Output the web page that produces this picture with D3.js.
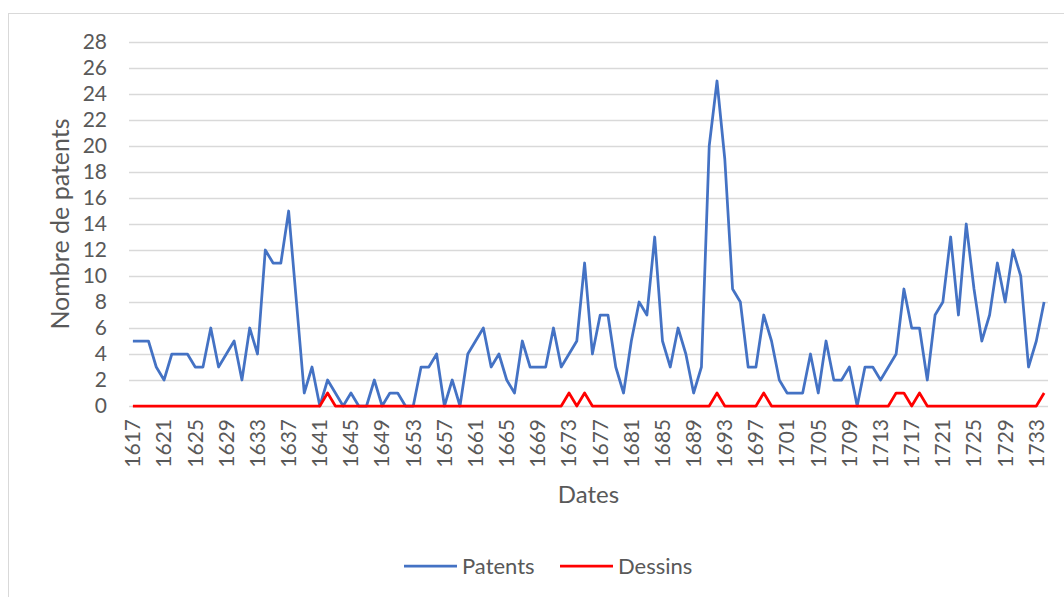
<!DOCTYPE html>
<html>
<head>
<meta charset="utf-8">
<script src="https://cdn.jsdelivr.net/npm/d3@7"></script>
<style>
  body { margin: 0; background: #fff; }
  text { font-family: Lato, "Open Sans", sans-serif; fill: #595959; }
</style>
</head>
<body>
<script>
var width = 1064;
var height = 597;

// years 1617 .. 1734
var years = d3.range(1617, 1735);
var patents = [5, 5, 5, 3, 2, 4, 4, 4, 3, 3, 6, 3, 4, 5, 2, 6, 4, 12, 11, 11,
  15, 8, 1, 3, 0, 2, 1, 0, 1, 0, 0, 2, 0, 1, 1, 0, 0, 3, 3, 4,
  0, 2, 0, 4, 5, 6, 3, 4, 2, 1, 5, 3, 3, 3, 6, 3, 4, 5, 11, 4,
  7, 7, 3, 1, 5, 8, 7, 13, 5, 3, 6, 4, 1, 3, 20, 25, 19, 9, 8, 3,
  3, 7, 5, 2, 1, 1, 1, 4, 1, 5, 2, 2, 3, 0, 3, 3, 2, 3, 4, 9,
  6, 6, 2, 7, 8, 13, 7, 14, 9, 5, 7, 11, 8, 12, 10, 3, 5, 8];
// years with one design registered, all other years 0
var dessinYears = [1642, 1673, 1675, 1692, 1698, 1715, 1716, 1718, 1734];
var dessins = years.map(function(y) { return dessinYears.indexOf(y) >= 0 ? 1 : 0; });
var yTicks = d3.range(0, 29, 2);
var seriesNames = ["Patents", "Dessins"];
var seriesColors = ["#4472C4", "#FF0000"];

var svg = d3.select('body').append('svg')
  .attr('width', width).attr('height', height);

// chart border
svg.append('rect')
  .attr('x', 8.5).attr('y', 13.5)
  .attr('width', width + 10).attr('height', height + 10)
  .attr('fill', 'none').attr('stroke', '#d9d9d9').attr('stroke-width', 1);

var plotLeft = 129, plotRight = 1048, plotTop = 42, plotBottom = 406;

var x = d3.scalePoint().domain(years).range([plotLeft, plotRight]).padding(0.5);
var y = d3.scaleLinear().domain([0, 28]).range([plotBottom, plotTop]);

// gridlines
svg.append('g').selectAll('line').data(yTicks).enter().append('line')
  .attr('x1', plotLeft).attr('x2', plotRight)
  .attr('y1', function(d) { return Math.round(y(d)) + 0.5; })
  .attr('y2', function(d) { return Math.round(y(d)) + 0.5; })
  .attr('stroke', '#d9d9d9').attr('stroke-width', 1.5);

// y tick labels
svg.append('g').selectAll('text').data(yTicks).enter().append('text')
  .attr('x', 107).attr('y', function(d) { return y(d); })
  .attr('dy', '0.35em').attr('text-anchor', 'end')
  .style('font-size', '21px')
  .text(function(d) { return d; });

// x tick labels, every 4 years
svg.append('g').selectAll('text')
  .data(years.filter(function(d, i) { return i % 4 === 0; }))
  .enter().append('text')
  .attr('transform', function(d) { return 'translate(' + x(d) + ',419) rotate(-90)'; })
  .attr('dy', '0.35em').attr('text-anchor', 'end')
  .style('font-size', '21px')
  .text(function(d) { return d; });

// axis titles
svg.append('text')
  .attr('transform', 'translate(60,' + ((plotTop + plotBottom) / 2) + ') rotate(-90)')
  .attr('dy', '0.35em').attr('text-anchor', 'middle')
  .style('font-size', '25px')
  .text('Nombre de patents');

svg.append('text')
  .attr('x', (plotLeft + plotRight) / 2).attr('y', 495)
  .attr('dy', '0.35em').attr('text-anchor', 'middle')
  .style('font-size', '24px')
  .text('Dates');

// lines
var line = d3.line()
  .x(function(d, i) { return x(years[i]); })
  .y(function(d) { return y(d); });

[patents, dessins].forEach(function(s, k) {
  svg.append('path').datum(s)
    .attr('d', line)
    .attr('fill', 'none')
    .attr('stroke', seriesColors[k])
    .attr('stroke-width', 2.75)
    .attr('stroke-linejoin', 'round');
});

// legend
var legendX = [404, 560];
var legend = svg.append('g').selectAll('g').data(seriesNames).enter().append('g')
  .attr('transform', function(d, i) { return 'translate(' + legendX[i] + ',566)'; });
legend.append('line')
  .attr('x1', 0).attr('x2', 53).attr('y1', 0).attr('y2', 0)
  .attr('stroke', function(d, i) { return seriesColors[i]; })
  .attr('stroke-width', 2.75);
legend.append('text')
  .attr('x', 58).attr('dy', '0.35em')
  .style('font-size', '22px')
  .text(function(d) { return d; });
</script>
</body>
</html>
